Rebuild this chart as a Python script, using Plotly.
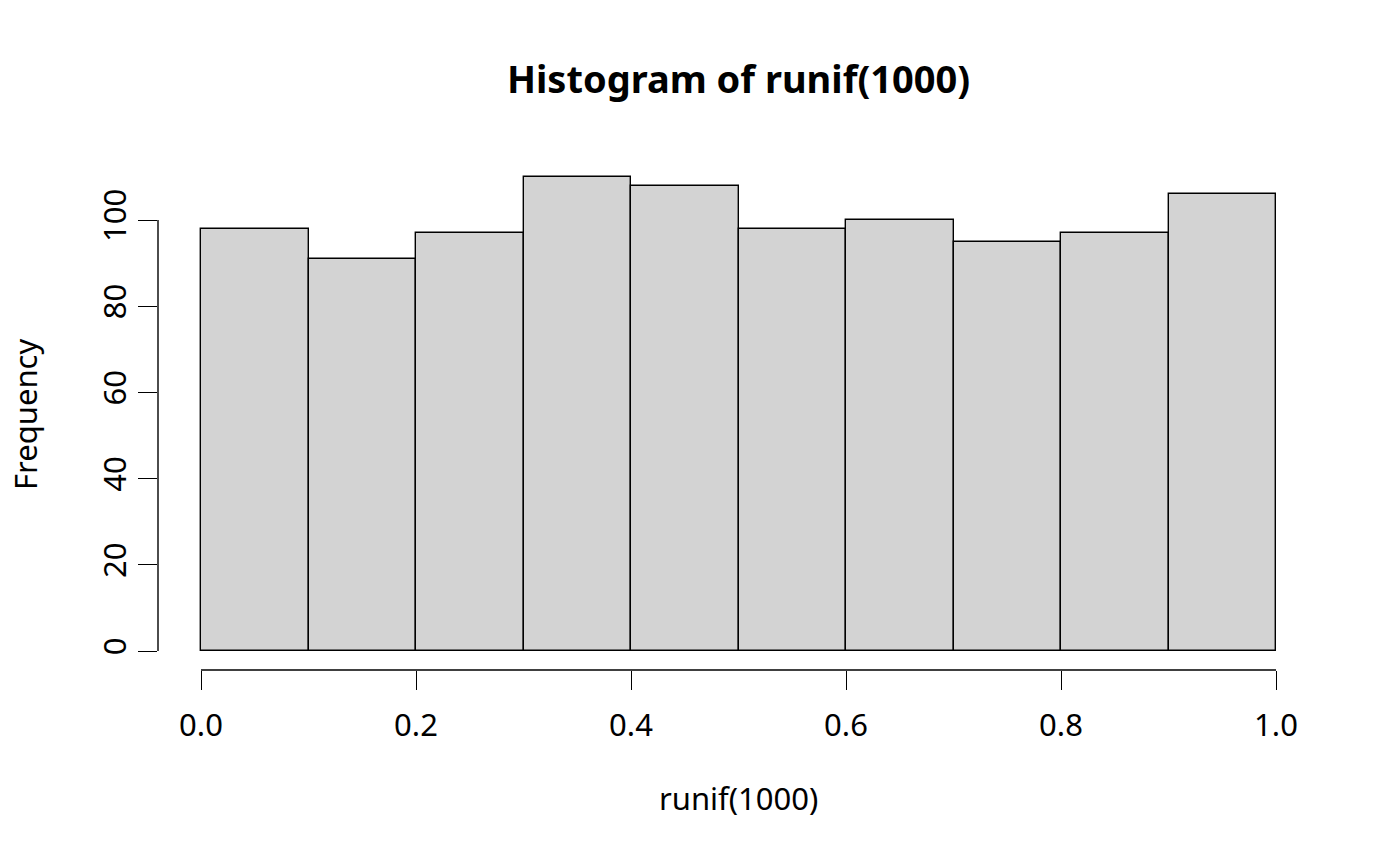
import plotly.graph_objects as go

bin_left = [0.0, 0.1, 0.2, 0.3, 0.4, 0.5, 0.6, 0.7, 0.8, 0.9]
bin_width = 0.1
counts = [98, 91, 97, 110, 108, 98, 100, 95, 97, 106]
x_ticks = [0.0, 0.2, 0.4, 0.6, 0.8, 1.0]
x_tick_labels = ["0.0", "0.2", "0.4", "0.6", "0.8", "1.0"]
y_ticks = [0, 20, 40, 60, 80, 100]
y_tick_labels = ["0", "20", "40", "60", "80", "100"]

FONT = "Noto Sans"
FS = 31
W, H = 1400, 866

fig = go.Figure()
fig.add_trace(go.Bar(
    x=bin_left, y=counts, width=bin_width, offset=0,
    marker=dict(color="#d3d3d3", line=dict(color="black", width=1.4)),
    hoverinfo="x+y", showlegend=False,
))

span = bin_left[-1] + bin_width - bin_left[0]
xr = [bin_left[0] - 0.04 * span, bin_left[-1] + bin_width + 0.04 * span]
ymax = max(counts)
yr = [-0.04 * ymax, ymax * 1.04]

fig.update_layout(
    width=W, height=H,
    margin=dict(l=158, r=81, t=158, b=196),
    paper_bgcolor="white", plot_bgcolor="white",
    font=dict(family=FONT, size=FS, color="black"),
    title=dict(text="<b>Histogram of runif(1000)</b>", x=0.5, xref="paper",
               y=1 - 80 / H, yref="container", yanchor="middle",
               font=dict(family=FONT, size=38, color="black")),
    xaxis=dict(range=xr, tickmode="array", tickvals=x_ticks, ticktext=x_tick_labels,
               ticks="outside", ticklen=19, tickwidth=1.4, tickcolor="black",
               showline=False, showgrid=False, zeroline=False,
               tickfont=dict(family=FONT, size=FS), ticklabelstandoff=9),
    yaxis=dict(range=yr, tickmode="array", tickvals=y_ticks, ticktext=y_tick_labels,
               ticks="outside", ticklen=19, tickwidth=1.4, tickcolor="black",
               showline=False, showgrid=False, zeroline=False, tickangle=-90,
               tickfont=dict(family=FONT, size=FS), ticklabelstandoff=0),
    bargap=0,
)

# R-style detached axis lines spanning first to last tick
fig.add_shape(type="line", xref="x", yref="paper", x0=x_ticks[0], x1=x_ticks[-1], y0=0, y1=0,
              line=dict(color="black", width=1.4))
fig.add_shape(type="line", xref="paper", yref="y", x0=0, x1=0, y0=y_ticks[0], y1=y_ticks[-1],
              line=dict(color="black", width=1.4))

fig.add_annotation(text="runif(1000)", xref="paper", yref="paper", x=0.5, y=0,
                   yshift=-128, yanchor="middle", showarrow=False,
                   font=dict(family=FONT, size=FS))
fig.add_annotation(text="Frequency", xref="paper", yref="paper", x=0, y=0.5,
                   xshift=-133, xanchor="center", yanchor="middle", textangle=-90,
                   showarrow=False, borderpad=0, font=dict(family=FONT, size=FS))

fig.write_html("out.html", config={"displayModeBar": False},
               post_script="document.body.style.margin='0';")
